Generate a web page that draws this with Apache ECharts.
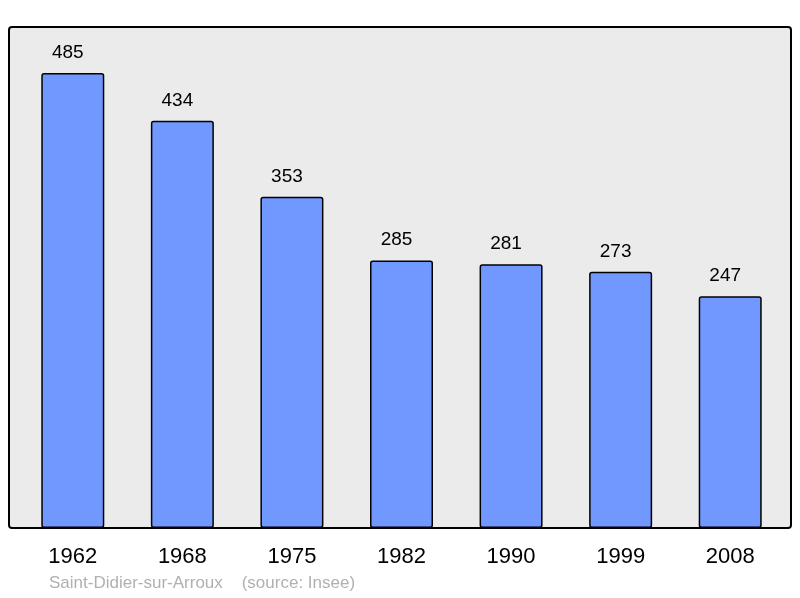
<!DOCTYPE html>
<html>
<head>
<meta charset="utf-8">
<script src="https://cdn.jsdelivr.net/npm/echarts@6/dist/echarts.min.js"></script>
<style>html,body{margin:0;padding:0;background:#fff}#c{width:800px;height:598px}</style>
</head>
<body>
<div id="c"></div>
<script>
const years = ['1962','1968','1975','1982','1990','1999','2008'];
const population = [485, 434, 353, 285, 281, 273, 247];
const caption = 'Saint-Didier-sur-Arroux    (source: Insee)';

const chart = echarts.init(document.getElementById('c'));
chart.setOption({
  animation: false,
  backgroundColor: '#ffffff',
  grid: { left: 18, right: 15, top: 27, bottom: 70 },
  graphic: [
    { type: 'rect', z: -10, shape: { x: 9, y: 27, width: 782, height: 501, r: 3 },
      style: { fill: '#ebebeb', stroke: '#000', lineWidth: 2 } },
    { type: 'text', left: 49, top: 575,
      style: { text: caption, fill: '#b0b0b0', font: '17px "Liberation Sans", Arial, sans-serif' } }
  ],
  xAxis: {
    type: 'category', data: years,
    axisLine: { show: false }, axisTick: { show: false },
    axisLabel: { color: '#000', fontSize: 22, fontFamily: 'Liberation Sans', margin: 18 }
  },
  yAxis: {
    type: 'value', min: 0, max: 534,
    show: false, splitLine: { show: false }
  },
  series: [{
    type: 'bar', data: population, barWidth: 63,
    itemStyle: { color: '#7098ff', borderColor: '#000', borderWidth: 1.5, borderRadius: 2 },
    label: { show: true, position: 'top', distance: 11, offset: [-5, 0], color: '#000', fontSize: 19, fontFamily: 'Liberation Sans' }
  }]
});
</script>
</body>
</html>
